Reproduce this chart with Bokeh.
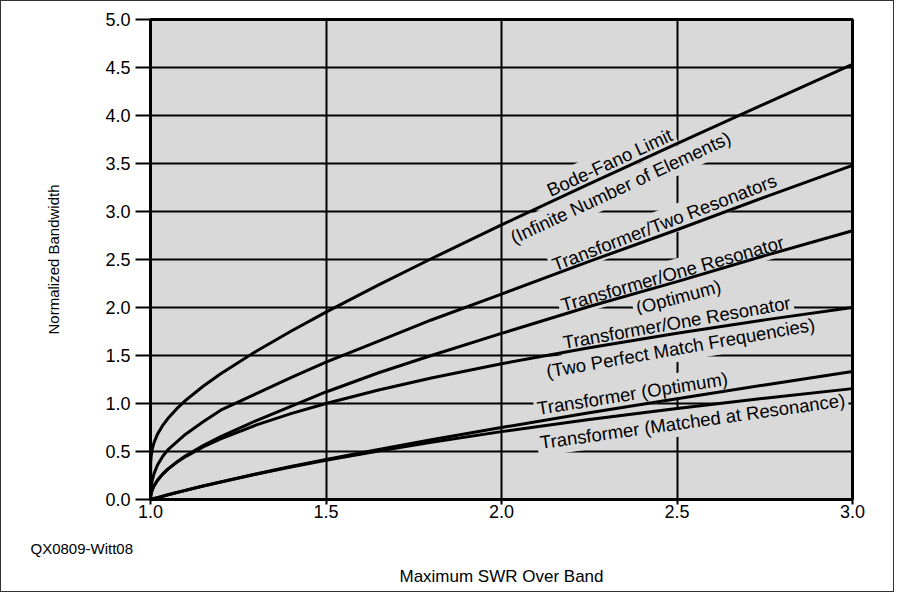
import math
from bokeh.plotting import figure
from bokeh.models import FixedTicker, NumeralTickFormatter, ColumnDataSource, Title
from bokeh.core.properties import value
from bokeh.embed import file_html
from bokeh.resources import INLINE

# ---- data ----
swr = [1.0, 1.0005, 1.002, 1.005, 1.01, 1.02, 1.035, 1.05, 1.075, 1.1, 1.15, 1.2, 1.3, 1.4,
       1.5, 1.65, 1.8, 2.0, 2.25, 2.5, 2.75, 3.0]
bode_fano = [0.0, 0.379, 0.455, 0.524, 0.592, 0.681, 0.773, 0.846, 0.946, 1.032, 1.180, 1.310,
             1.542, 1.753, 1.952, 2.236, 2.508, 2.860, 3.288, 3.708, 4.122, 4.532]
two_resonators = [0.0, 0.07, 0.14, 0.20, 0.27, 0.36, 0.45, 0.52, 0.60, 0.68, 0.81, 0.93,
                  1.10, 1.27, 1.43, 1.65, 1.87, 2.14, 2.48, 2.81, 3.15, 3.48]
one_res_optimum = [0.0, 0.032, 0.064, 0.10, 0.142, 0.201, 0.267, 0.319, 0.392, 0.455, 0.562, 0.655,
                   0.82, 0.97, 1.12, 1.32, 1.50, 1.73, 2.01, 2.27, 2.54, 2.80]
one_res_two_match = [0.0, 0.0316, 0.0632, 0.10, 0.141, 0.20, 0.265, 0.316, 0.387, 0.447, 0.548, 0.632,
                     0.775, 0.894, 1.0, 1.140, 1.265, 1.414, 1.581, 1.732, 1.871, 2.0]
transformer_optimum = [0.0, 0.0005, 0.002, 0.005, 0.01, 0.0198, 0.0344, 0.0488, 0.0726, 0.0955, 0.140, 0.183,
                       0.265, 0.343, 0.417, 0.522, 0.622, 0.75, 0.903, 1.05, 1.193, 1.333]
transformer_matched = [0.0, 0.0005, 0.002, 0.005, 0.00995, 0.0198, 0.0344, 0.0488, 0.0723, 0.0953, 0.140, 0.183,
                       0.263, 0.338, 0.408, 0.506, 0.596, 0.707, 0.833, 0.949, 1.055, 1.155]

x_ticks = [1.0, 1.5, 2.0, 2.5, 3.0]
y_ticks = [0.0, 0.5, 1.0, 1.5, 2.0, 2.5, 3.0, 3.5, 4.0, 4.5, 5.0]

curve_labels = ["Bode-Fano Limit", "(Infinite Number of Elements)", "Transformer/Two Resonators",
                "Transformer/One Resonator", "(Optimum)", "Transformer/One Resonator",
                "(Two Perfect Match Frequencies)", "Transformer (Optimum)",
                "Transformer (Matched at Resonance)"]
# label layout (positions/angles)
label_x = [2.308, 2.339, 2.464, 2.487, 2.504, 2.499, 2.510, 2.373, 2.544]
label_y = [3.51, 3.25, 2.885, 2.354, 2.11, 1.844, 1.58, 1.104, 0.815]
label_angle_deg = [25, 25, 21, 16, 15, 10, 10, 9, 8]

FONT = "Liberation Sans"

p = figure(width=894, height=592, x_range=(1, 3), y_range=(0, 5),
           output_backend="svg", toolbar_location=None,
           min_border_left=149, min_border_right=43, min_border_top=18, min_border_bottom=94,
           background_fill_color="#d9d9d9", border_fill_color="white",
           outline_line_color="black", outline_line_width=3)
p.styles = {"border": "1px solid #333333"}

for ax, ticks, out in ((p.xaxis, x_ticks, 5), (p.yaxis, y_ticks, 15)):
    ax.ticker = FixedTicker(ticks=ticks)
    ax.formatter = NumeralTickFormatter(format="0.0")
    ax.axis_line_color = "black"
    ax.axis_line_width = 3
    ax.major_tick_line_color = "black"
    ax.major_tick_line_width = 2
    ax.major_tick_in = 0
    ax.major_tick_out = out
    ax.minor_tick_line_color = None
    ax.major_label_text_font = FONT
    ax.major_label_text_font_size = "18px"
    ax.major_label_text_color = "black"

p.xaxis.major_label_standoff = 0
p.yaxis.major_label_standoff = 5
p.yaxis.axis_label = "Normalized Bandwidth"
p.yaxis.axis_label_text_font = FONT
p.yaxis.axis_label_text_font_size = "15px"
p.yaxis.axis_label_text_font_style = "normal"
p.yaxis.axis_label_text_color = "black"
p.yaxis.axis_label_standoff = 40

for g in (p.xgrid, p.ygrid):
    g.grid_line_color = "black"
    g.grid_line_width = 2

src = ColumnDataSource(dict(x=label_x, y=label_y, text=curve_labels,
                            angle=[math.radians(a) for a in label_angle_deg]))
p.text(x="x", y="y", text="text", angle="angle", source=src,
       text_align="center", text_baseline="middle",
       text_font=value(FONT), text_font_size="18.5px", text_color="black",
       background_fill_color="#d9d9d9", padding=3)

for series in (bode_fano, two_resonators, one_res_optimum, one_res_two_match,
               transformer_optimum, transformer_matched):
    p.line(swr, series, line_color="black", line_width=3)

# bottom texts: credit line (left) and x-axis title (centred), stacked below the axis
p.add_layout(Title(text="QX0809-Witt08", align="left", offset=-120, standoff=35,
                   text_font=FONT, text_font_size="15px", text_font_style="normal",
                   text_color="black"), "below")
p.add_layout(Title(text="Maximum SWR Over Band", align="center", standoff=-19,
                   text_font=FONT, text_font_size="17px", text_font_style="normal",
                   text_color="black"), "below")

open("out.html", "w").write(file_html(p, INLINE))
